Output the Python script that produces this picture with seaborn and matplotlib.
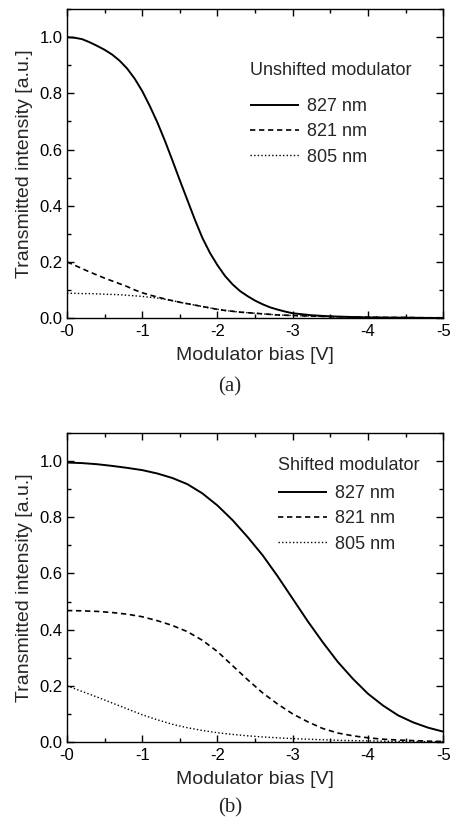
import numpy as np
import pandas as pd
import matplotlib
matplotlib.use("Agg")
import matplotlib.pyplot as plt
import seaborn as sns
from matplotlib.ticker import MultipleLocator, FixedLocator, FixedFormatter

# ---------------- data ----------------
bias_a = [0, -0.1, -0.2, -0.3, -0.4, -0.5, -0.6, -0.7, -0.8, -0.9,
          -1.0, -1.1, -1.2, -1.3, -1.4, -1.5, -1.6, -1.7, -1.8, -1.9,
          -2.0, -2.1, -2.2, -2.3, -2.4, -2.5, -2.6, -2.7, -2.8, -2.9,
          -3.0, -3.25, -3.5, -3.75, -4.0, -4.25, -4.5, -4.75, -5.0]
a_827 = [1.000, 0.998, 0.993, 0.982, 0.969, 0.955, 0.938, 0.916, 0.888, 0.852,
         0.808, 0.755, 0.697, 0.632, 0.562, 0.490, 0.420, 0.350, 0.285, 0.232,
         0.188, 0.150, 0.120, 0.096, 0.078, 0.062, 0.049, 0.038, 0.030, 0.023,
         0.017, 0.010, 0.006, 0.004, 0.002, 0.0015, 0.001, 0.0005, 0.0]
a_821 = [0.200, 0.188, 0.176, 0.164, 0.153, 0.142, 0.132, 0.122, 0.112, 0.100,
         0.090, 0.082, 0.075, 0.068, 0.062, 0.056, 0.051, 0.046, 0.041, 0.036,
         0.031, 0.027, 0.024, 0.021, 0.019, 0.017, 0.015, 0.013, 0.011, 0.010,
         0.009, 0.007, 0.005, 0.004, 0.003, 0.002, 0.002, 0.001, 0.001]
a_805 = [0.088, 0.088, 0.087, 0.087, 0.086, 0.085, 0.084, 0.083, 0.081, 0.079,
         0.077, 0.074, 0.071, 0.067, 0.062, 0.056, 0.051, 0.046, 0.041, 0.036,
         0.031, 0.027, 0.024, 0.021, 0.019, 0.017, 0.015, 0.013, 0.011, 0.010,
         0.009, 0.007, 0.005, 0.004, 0.003, 0.002, 0.002, 0.001, 0.001]

bias_b = [0, -0.2, -0.4, -0.6, -0.8, -1.0, -1.2, -1.4, -1.6, -1.8,
          -2.0, -2.2, -2.4, -2.6, -2.8, -3.0, -3.2, -3.4, -3.6, -3.8,
          -4.0, -4.2, -4.4, -4.6, -4.8, -5.0]
b_827 = [0.995, 0.993, 0.989, 0.983, 0.976, 0.968, 0.956, 0.940, 0.918, 0.885,
         0.842, 0.790, 0.730, 0.665, 0.590, 0.510, 0.430, 0.355, 0.285, 0.225,
         0.172, 0.130, 0.095, 0.070, 0.051, 0.037]
b_821 = [0.468, 0.467, 0.465, 0.461, 0.455, 0.446, 0.432, 0.415, 0.393, 0.362,
         0.322, 0.272, 0.222, 0.175, 0.135, 0.100, 0.072, 0.048, 0.032, 0.022,
         0.015, 0.010, 0.007, 0.005, 0.003, 0.002]
b_805 = [0.200, 0.180, 0.160, 0.139, 0.118, 0.097, 0.079, 0.063, 0.051, 0.041,
         0.033, 0.027, 0.022, 0.018, 0.015, 0.012, 0.010, 0.008, 0.006, 0.005,
         0.004, 0.003, 0.002, 0.002, 0.001, 0.001]

wavelengths = ["827 nm", "821 nm", "805 nm"]
x_ticks = [0, -1, -2, -3, -4, -5]
x_ticklabels = ["-0", "-1", "-2", "-3", "-4", "-5"]
y_ticks = [0.0, 0.2, 0.4, 0.6, 0.8, 1.0]
titles = ["Unshifted modulator", "Shifted modulator"]
captions = ["(a)", "(b)"]

# ---------------- style ----------------
sns.set_style("ticks")
plt.rcParams['font.family'] = ['Liberation Sans', 'DejaVu Sans']
plt.rcParams['axes.linewidth'] = 1.0

fig = plt.figure(figsize=(4.51, 8.25), dpi=100)
ax_a = fig.add_axes([0.1486, 0.6145, 0.834, 0.3745])
ax_b = fig.add_axes([0.1486, 0.1006, 0.834, 0.3745])

styles = {"827 nm": (0, ()), "821 nm": (0, (3.2, 2.2)), "805 nm": (0, (1, 1.6))}
widths = {"827 nm": 1.4, "821 nm": 1.2, "805 nm": 1.0}


def make_df(bias, ys):
    frames = []
    for wl, y in zip(wavelengths, ys):
        frames.append(pd.DataFrame({"bias": bias, "I": y, "wl": wl}))
    return pd.concat(frames, ignore_index=True)


panels = [
    (ax_a, make_df(bias_a, [a_827, a_821, a_805]), titles[0], (0.487, 0.829), 14,
     captions[0], 0.531),
    (ax_b, make_df(bias_b, [b_827, b_821, b_805]), titles[1], (0.561, 0.922), 8,
     captions[1], 0.021),
]

for ax, df, title, anchor, sep, cap, capy in panels:
    for wl in wavelengths:
        sub = df[df.wl == wl]
        sns.lineplot(data=sub, x="bias", y="I", ax=ax, color="black",
                     linestyle=styles[wl], linewidth=widths[wl], label=wl,
                     estimator=None, sort=False)
    ax.set_xlim(0, -5)
    ax.set_ylim(0, 1.1)
    ax.xaxis.set_major_locator(FixedLocator(x_ticks))
    ax.xaxis.set_major_formatter(FixedFormatter(x_ticklabels))
    ax.xaxis.set_minor_locator(MultipleLocator(0.5))
    ax.yaxis.set_major_locator(FixedLocator(y_ticks))
    ax.yaxis.set_minor_locator(MultipleLocator(0.1))
    ax.yaxis.set_major_formatter(matplotlib.ticker.FormatStrFormatter("%.1f"))
    ax.tick_params(which="both", direction="in", top=True, right=True, width=1.0,
                   labelsize=12, colors="black")
    ax.tick_params(axis="x", pad=4)
    ax.tick_params(axis="y", pad=3)
    ax.tick_params(which="major", length=5)
    ax.tick_params(which="minor", length=3)
    ax.set_xlabel("Modulator bias [V]", fontsize=14, labelpad=6)
    ax.set_ylabel("Transmitted intensity [a.u.]", fontsize=14, labelpad=5)
    for s in ax.spines.values():
        s.set_visible(True)
        s.set_color("black")
    leg = ax.legend(title=title, loc="upper left", bbox_to_anchor=anchor,
                    frameon=False, fontsize=13, title_fontsize=13,
                    handlelength=2.7, handletextpad=0.45, labelspacing=0.45,
                    borderaxespad=0, borderpad=0)
    leg._legend_box.align = "left"
    leg._legend_box.sep = sep
    fig.text(0.51, capy, cap, ha="center", va="center", fontsize=15,
             family=["Liberation Serif", "DejaVu Serif"])

fig.savefig("out.png", dpi=100)
